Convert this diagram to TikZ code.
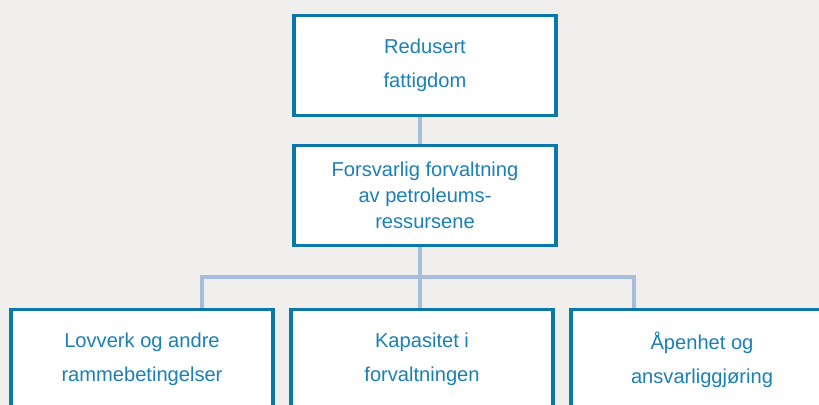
\documentclass[tikz,border=0pt]{standalone}
\usepackage{fontspec}
\setmainfont{Liberation Sans}
\usetikzlibrary{positioning,calc,backgrounds}
\definecolor{boxblue}{RGB}{11,120,169}
\definecolor{textblue}{RGB}{26,128,182}
\definecolor{linkgray}{RGB}{166,190,218}
\definecolor{paper}{RGB}{240,239,237}

\begin{document}
\begin{tikzpicture}[x=0.025cm,y=-0.025cm,
  goal/.style={draw=boxblue,line width=2.2pt,fill=white,text=textblue,align=center,
    minimum width=6.55cm,minimum height=2.52cm,inner sep=0pt,
    font=\fontsize{14.3}{24.2}\selectfont},
  link/.style={linkgray,line width=2.2pt}]
  \useasboundingbox (0,0) rectangle (819,405);
  \clip (0,0) rectangle (819,405);
  % goal boxes
  \node[goal] (top) at (425,65.5) {Redusert\\fattigdom};
  \node[goal,font=\fontsize{14.3}{18.6}\selectfont] (mid) at (425,195.5)
    {Forsvarlig forvaltning\\av petroleums-\\ressursene};
  \node[goal] (lov) at (142,359.5) {Lovverk og andre\\rammebetingelser};
  \node[goal] (kap) at (422,359.5) {Kapasitet i\\forvaltningen};
  \node[goal] (apen) at (702,359.5) {Åpenhet og\\ansvarliggjøring};
  % branch points
  \coordinate (hub) at (420,277);
  \coordinate (lb) at (202,277);
  \coordinate (rb) at (634,277);
  \begin{scope}[on background layer]
    \fill[paper] (0,0) rectangle (819,405);
    \draw[link] (top.south -| hub) -- (mid.north -| hub);
    \draw[link] (mid.south -| hub) -- (hub) -- (hub |- kap.north);
    \draw[link] (lb |- lov.north) -- (lb) -- (rb) -- (rb |- apen.north);
  \end{scope}
\end{tikzpicture}
\end{document}
